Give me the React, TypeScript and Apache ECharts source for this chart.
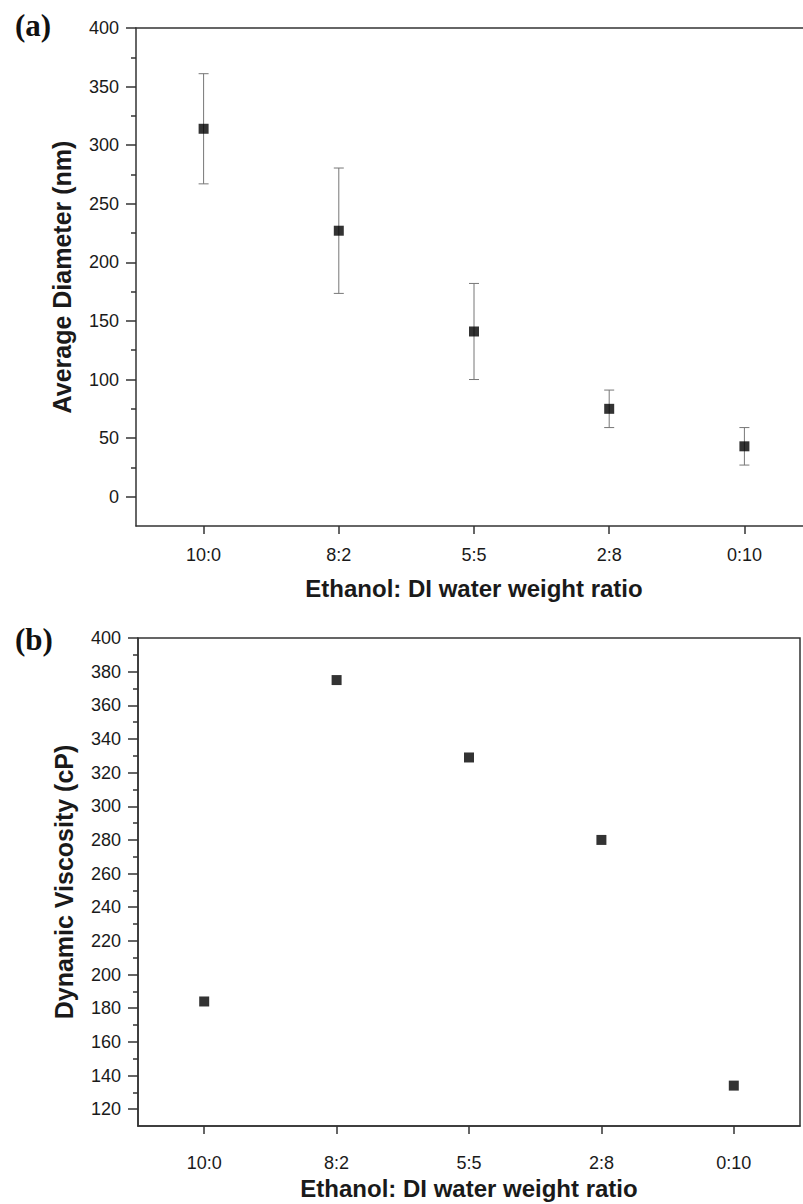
import React, { useEffect, useRef } from "react";
import * as echarts from "echarts";

const ratios = ["10:0", "8:2", "5:5", "2:8", "0:10"];
const diameterMean = [314, 227, 141, 75, 43];
const diameterErr = [47, 53.5, 41, 16, 16];
const viscosity = [184, 375, 329, 280, 134];
const diameterTicks = [0, 50, 100, 150, 200, 250, 300, 350, 400];
const viscosityTicks = [120, 140, 160, 180, 200, 220, 240, 260, 280, 300, 320, 340, 360, 380, 400];

const FONT = "'Liberation Sans', Arial, sans-serif";
const AXIS = "#333";
const TXT = "#1a1a1a";

function errorBars(api: any) {
  const x = api.value(0);
  const lo = api.coord([x, api.value(1)]);
  const hi = api.coord([x, api.value(2)]);
  const half = 5;
  const style = { stroke: "#777", lineWidth: 1 };
  return {
    type: "group",
    children: [
      { type: "line", shape: { x1: lo[0], y1: lo[1], x2: hi[0], y2: hi[1] }, style },
      { type: "line", shape: { x1: lo[0] - half, y1: lo[1], x2: lo[0] + half, y2: lo[1] }, style },
      { type: "line", shape: { x1: hi[0] - half, y1: hi[1], x2: hi[0] + half, y2: hi[1] }, style },
    ],
  };
}

export default function App() {
  const ref = useRef<HTMLDivElement>(null);
  useEffect(() => {
    document.body.style.margin = "0";
    const chart = echarts.init(ref.current!, null, { renderer: "svg" });
    const xAxisCommon = (gridIndex: number, labelMargin: number, nameGap: number) => ({
      type: "category",
      gridIndex,
      position: "bottom",
      data: ratios,
      name: "Ethanol: DI water weight ratio",
      nameLocation: "middle",
      nameGap,
      nameTextStyle: { fontFamily: FONT, fontWeight: "bold", fontSize: 24, color: TXT },
      axisLine: { show: true, onZero: false, lineStyle: { color: AXIS, width: 1.5 } },
      axisTick: { show: true, alignWithLabel: true, length: 8, inside: false, lineStyle: { color: AXIS, width: 1.5 } },
      axisLabel: { fontFamily: FONT, fontSize: 18, color: TXT, margin: labelMargin },
      splitLine: { show: false },
    });
    const yAxisCommon = (gridIndex: number, name: string, min: number, max: number, step: number, ticks: number[]) => ({
      type: "value",
      gridIndex,
      min,
      max,
      minInterval: step,
      maxInterval: step,
      splitNumber: Math.round((max - min) / step),
      name,
      nameLocation: "middle",
      nameGap: 62,
      nameTextStyle: { fontFamily: FONT, fontWeight: "bold", fontSize: 25, color: TXT },
      axisLine: { show: true, onZero: false, lineStyle: { color: AXIS, width: 1.5 } },
      axisTick: { show: true, length: 10, customValues: ticks, lineStyle: { color: AXIS, width: 1.5 } },
      minorTick: { show: true, splitNumber: 2, length: 5, lineStyle: { color: AXIS, width: 1.5 } },
      axisLabel: { fontFamily: FONT, fontSize: 18, color: TXT, margin: 17, customValues: ticks },
      splitLine: { show: false },
      minorSplitLine: { show: false },
    });
    chart.setOption({
      animation: false,
      backgroundColor: "#fff",
      grid: [
        { left: 136, top: 28, width: 676, height: 498, outerBoundsMode: "none", containLabel: false, show: false },
        { left: 138, top: 638, width: 662, height: 488, outerBoundsMode: "none", containLabel: false, show: true, borderColor: AXIS, borderWidth: 1.5, backgroundColor: "transparent" },
      ],
      xAxis: [
        xAxisCommon(0, 20, 50),
        xAxisCommon(1, 28, 50),
        {
          type: "category",
          gridIndex: 0,
          position: "top",
          data: ratios,
          axisLine: { show: true, onZero: false, lineStyle: { color: AXIS, width: 1.5 } },
          axisTick: { show: false },
          axisLabel: { show: false },
          splitLine: { show: false },
        },
      ],
      yAxis: [
        yAxisCommon(0, "Average Diameter (nm)", -25, 400, 50, diameterTicks),
        yAxisCommon(1, "Dynamic Viscosity (cP)", 110, 400, 20, viscosityTicks),
      ],
      graphic: [
        { type: "text", left: 15, top: 10, style: { text: "(a)", font: "bold 31px 'Liberation Serif', 'Times New Roman', serif", fill: "#111" } },
        { type: "text", left: 15, top: 624, style: { text: "(b)", font: "bold 31px 'Liberation Serif', 'Times New Roman', serif", fill: "#111" } },
      ],
      series: [
        {
          type: "custom",
          xAxisIndex: 0,
          yAxisIndex: 0,
          renderItem: (_p: any, api: any) => errorBars(api),
          encode: { x: 0, y: [1, 2] },
          data: diameterMean.map((m, i) => [i, m - diameterErr[i], m + diameterErr[i]]),
          z: 1,
        },
        {
          type: "scatter",
          xAxisIndex: 0,
          yAxisIndex: 0,
          symbol: "rect",
          symbolSize: 10,
          itemStyle: { color: "#000" },
          data: diameterMean,
          z: 3,
        },
        {
          type: "scatter",
          xAxisIndex: 1,
          yAxisIndex: 1,
          symbol: "rect",
          symbolSize: 10,
          itemStyle: { color: "#000" },
          data: viscosity,
          z: 3,
        },
      ],
    });
    return () => chart.dispose();
  }, []);
  return (
    <div style={{ width: 803, height: 1204, overflow: "hidden" }}>
      <div ref={ref} style={{ width: 830, height: 1204 }} />
    </div>
  );
}
